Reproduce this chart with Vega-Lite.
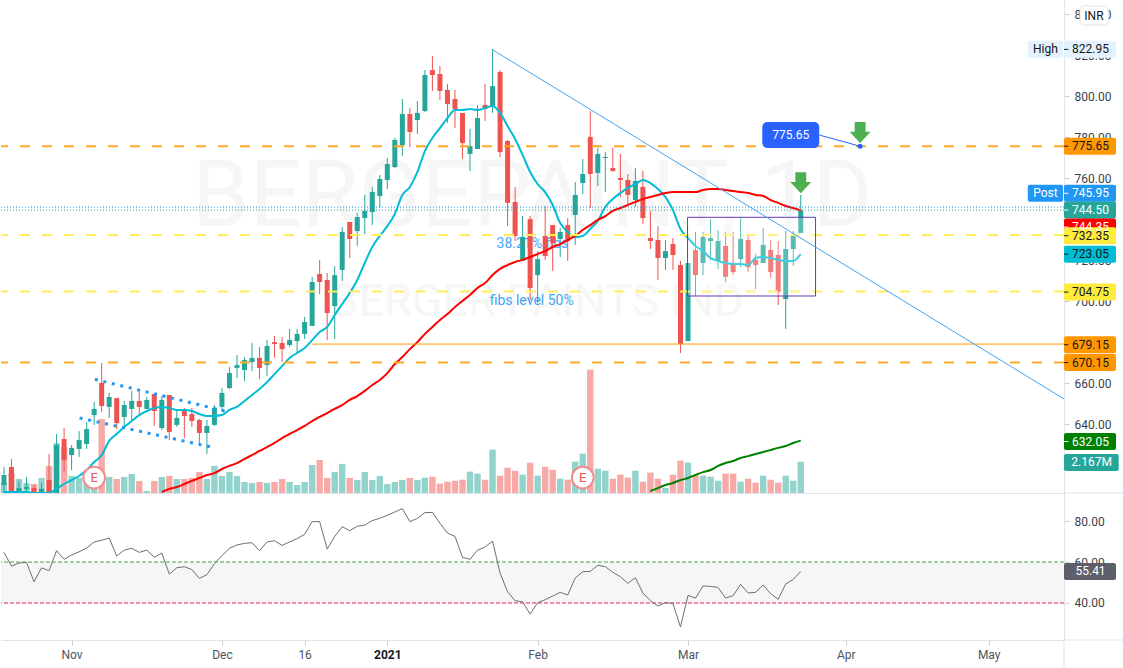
{
  "$schema": "https://vega.github.io/schema/vega-lite/v6.json",
  "background": "white",
  "padding": 0,
  "spacing": 0,
  "bounds": "flush",
  "datasets": {
    "bars": [
      {"i":0,"o":610.4,"h":619.2,"l":600,"c":615.3,"v":0.69,"r":64.7,"e20":607},
      {"i":1,"o":619.2,"h":623.1,"l":600,"c":604,"v":1.38,"r":58.0,"e20":607},
      {"i":2,"o":604,"h":612.4,"l":600,"c":608.9,"v":0.97,"r":59.5,"e20":607},
      {"i":3,"o":608.5,"h":614.3,"l":600,"c":609.4,"v":0.69,"r":59.8,"e20":607},
      {"i":4,"o":608.9,"h":610.4,"l":600,"c":604,"v":0.62,"r":50.4,"e20":606.5},
      {"i":5,"o":604,"h":611.4,"l":600,"c":608.5,"v":1.04,"r":57.1,"e20":606.5},
      {"i":6,"o":612.8,"h":625.5,"l":600,"c":604,"v":1.87,"r":55.8,"e20":606.5},
      {"i":7,"o":604,"h":635.3,"l":600,"c":629.9,"v":3.46,"r":65.5,"e20":608.5},
      {"i":8,"o":632.8,"h":638.2,"l":616.7,"c":622.6,"v":3.18,"r":61.3,"e20":610.9},
      {"i":9,"o":625.0,"h":629.9,"l":617.7,"c":628.5,"v":1.18,"r":63.4,"e20":612.8},
      {"i":10,"o":628.0,"h":636.7,"l":624.1,"c":632.4,"v":1.04,"r":65.0,"e20":614.8},
      {"i":11,"o":630.4,"h":641.1,"l":628.0,"c":637.7,"v":0.69,"r":66.8,"e20":617.7},
      {"i":12,"o":644.5,"h":650.9,"l":639.7,"c":647.5,"v":0.46,"r":69.8,"e20":621.6},
      {"i":13,"o":660.2,"h":669.9,"l":646.0,"c":648.9,"v":5.12,"r":70.6,"e20":625.0},
      {"i":14,"o":648.5,"h":655.3,"l":643.1,"c":653.3,"v":1.11,"r":71.7,"e20":631.9},
      {"i":15,"o":652.8,"h":652.8,"l":637.7,"c":640.6,"v":0.97,"r":62.9,"e20":635.3},
      {"i":16,"o":643.6,"h":651.4,"l":639.2,"c":649.4,"v":1.11,"r":65.8,"e20":638.7},
      {"i":17,"o":647.5,"h":656.3,"l":642.1,"c":651.4,"v":1.31,"r":66.7,"e20":641.6},
      {"i":18,"o":651.4,"h":656.3,"l":645.0,"c":648.5,"v":0.83,"r":64.7,"e20":644.5},
      {"i":19,"o":647.5,"h":653.3,"l":647.5,"c":651.9,"v":0.14,"r":65.8,"e20":646.5},
      {"i":20,"o":654.8,"h":654.8,"l":639.2,"c":646.5,"v":0.83,"r":62.3,"e20":648.0},
      {"i":21,"o":638.2,"h":653.8,"l":637.2,"c":651.9,"v":1.11,"r":64.4,"e20":648.5,"e50":607},
      {"i":22,"o":654.3,"h":654.3,"l":632.4,"c":636.3,"v":1.18,"r":54.1,"e20":648.0,"e50":608.5},
      {"i":23,"o":639.7,"h":647.0,"l":638.7,"c":643.1,"v":0.97,"r":57.2,"e20":647.0,"e50":609.4},
      {"i":24,"o":646.5,"h":648.0,"l":633.3,"c":644.1,"v":0.97,"r":57.7,"e20":647.0,"e50":610.9},
      {"i":25,"o":645.0,"h":648.0,"l":638.7,"c":641.6,"v":1.04,"r":56.3,"e20":646.5,"e50":612.4},
      {"i":26,"o":642.1,"h":642.6,"l":630.4,"c":635.8,"v":1.45,"r":52.0,"e20":645.0,"e50":613.8},
      {"i":27,"o":635.8,"h":642.1,"l":625.5,"c":639.2,"v":0.97,"r":53.8,"e20":644.1,"e50":615.3},
      {"i":28,"o":639.7,"h":649.4,"l":639.2,"c":648.0,"v":1.87,"r":59.2,"e20":644.1,"e50":616.2},
      {"i":29,"o":648.5,"h":657.7,"l":647.0,"c":655.3,"v":1.18,"r":63.1,"e20":644.5,"e50":618.2},
      {"i":30,"o":657.7,"h":668.0,"l":657.2,"c":665.0,"v":1.45,"r":66.7,"e20":647.0,"e50":619.7},
      {"i":31,"o":667.5,"h":673.8,"l":662.6,"c":668.9,"v":1.18,"r":68.3,"e20":648.5,"e50":621.1},
      {"i":32,"o":666.5,"h":672.8,"l":661.1,"c":671.4,"v":0.76,"r":69.1,"e20":651.4,"e50":623.1},
      {"i":33,"o":670.4,"h":679.7,"l":666.0,"c":672.4,"v":0.69,"r":69.4,"e20":654.3,"e50":625.0},
      {"i":34,"o":672.4,"h":677.7,"l":662.1,"c":667.5,"v":0.76,"r":65.5,"e20":657.2,"e50":627.0},
      {"i":35,"o":668.9,"h":681.1,"l":663.6,"c":678.2,"v":0.69,"r":69.8,"e20":660.6,"e50":628.9},
      {"i":36,"o":680.1,"h":683.1,"l":672.4,"c":679.2,"v":0.76,"r":70.4,"e20":664.5,"e50":630.9},
      {"i":37,"o":679.7,"h":682.6,"l":670.4,"c":676.7,"v":0.97,"r":68.1,"e20":668.4,"e50":633.3},
      {"i":38,"o":678.7,"h":686.5,"l":677.7,"c":681.1,"v":0.76,"r":69.8,"e20":672.4,"e50":635.3},
      {"i":39,"o":680.6,"h":686.5,"l":674.3,"c":684.1,"v":0.55,"r":71.4,"e20":674.8,"e50":637.2},
      {"i":40,"o":684.1,"h":692.4,"l":681.6,"c":689.9,"v":0.76,"r":73.5,"e20":677.2,"e50":639.2},
      {"i":41,"o":688.0,"h":711.9,"l":688.0,"c":709.4,"v":1.94,"r":79.7,"e20":681.1,"e50":641.6},
      {"i":42,"o":713.3,"h":720.2,"l":703.6,"c":709.4,"v":2.28,"r":79.7,"e20":685.0,"e50":643.6},
      {"i":43,"o":710.4,"h":713.8,"l":681.1,"c":694.3,"v":1.04,"r":66.3,"e20":687.5,"e50":645.5},
      {"i":44,"o":697.7,"h":717.2,"l":681.6,"c":712.8,"v":1.45,"r":72.5,"e20":693.3,"e50":647.5},
      {"i":45,"o":715.3,"h":736.2,"l":709.9,"c":733.8,"v":2.01,"r":77.2,"e20":698.7,"e50":649.4},
      {"i":46,"o":738.7,"h":738.7,"l":721.1,"c":730.4,"v":1.04,"r":75.3,"e20":704.1,"e50":651.9},
      {"i":47,"o":734.3,"h":743.1,"l":727.0,"c":741.1,"v":0.90,"r":77.4,"e20":710.4,"e50":653.8},
      {"i":48,"o":740.6,"h":751.9,"l":732.8,"c":744.1,"v":1.45,"r":78.0,"e20":718.7,"e50":656.3},
      {"i":49,"o":743.6,"h":755.8,"l":737.2,"c":753.3,"v":0.90,"r":80.2,"e20":726.5,"e50":659.2},
      {"i":50,"o":751.4,"h":761.6,"l":745.5,"c":759.7,"v":1.18,"r":81.3,"e20":731.9,"e50":661.6},
      {"i":51,"o":759.2,"h":769.9,"l":754.8,"c":767.0,"v":0.62,"r":82.8,"e20":736.7,"e50":665.0},
      {"i":52,"o":765.5,"h":779.7,"l":765.0,"c":778.7,"v":0.76,"r":84.4,"e20":742.6,"e50":669.4},
      {"i":53,"o":776.2,"h":798.7,"l":770.9,"c":791.4,"v":0.90,"r":86.0,"e20":751.9,"e50":672.8},
      {"i":54,"o":791.4,"h":794.3,"l":775.3,"c":782.6,"v":1.04,"r":79.7,"e20":755.8,"e50":676.7},
      {"i":55,"o":788.4,"h":797.7,"l":781.6,"c":791.9,"v":0.90,"r":81.3,"e20":763.1,"e50":680.1},
      {"i":56,"o":792.8,"h":812.8,"l":792.3,"c":810.4,"v":1.06,"r":84.1,"e20":773.3,"e50":684.1},
      {"i":57,"o":812.8,"h":819.7,"l":802.6,"c":810.4,"v":1.13,"r":84.2,"e20":779.7,"e50":687.5},
      {"i":58,"o":810.9,"h":814.8,"l":798.2,"c":802.6,"v":0.65,"r":78.9,"e20":784.5,"e50":690.9},
      {"i":59,"o":803.1,"h":806.0,"l":787.0,"c":796.2,"v":0.78,"r":74.1,"e20":789.4,"e50":693.8},
      {"i":60,"o":798.7,"h":803.1,"l":784.5,"c":793.8,"v":0.85,"r":72.5,"e20":793.3,"e50":697.2},
      {"i":61,"o":791.9,"h":791.9,"l":769.4,"c":777.2,"v":0.92,"r":62.3,"e20":793.3,"e50":700.2},
      {"i":62,"o":771.9,"h":784.1,"l":763.6,"c":775.8,"v":1.48,"r":61.3,"e20":793.8,"e50":703.1},
      {"i":63,"o":774.3,"h":795.8,"l":774.3,"c":789.4,"v":1.34,"r":65.8,"e20":793.3,"e50":706.5},
      {"i":64,"o":795.8,"h":806.0,"l":788.0,"c":793.8,"v":0.92,"r":67.3,"e20":794.3,"e50":708.9},
      {"i":65,"o":794.8,"h":823.0,"l":791.9,"c":805.0,"v":3.00,"r":70.2,"e20":795.3,"e50":712.8},
      {"i":66,"o":811.9,"h":812.8,"l":770.4,"c":772.8,"v":1.20,"r":54.6,"e20":791.9,"e50":715.8},
      {"i":67,"o":778.2,"h":778.7,"l":736.7,"c":748.0,"v":1.75,"r":45.5,"e20":785.5,"e50":717.7},
      {"i":68,"o":748.5,"h":755.8,"l":729.4,"c":731.9,"v":1.54,"r":41.1,"e20":779.2,"e50":719.2},
      {"i":69,"o":719.7,"h":741.6,"l":719.7,"c":731.4,"v":1.27,"r":40.6,"e20":771.4,"e50":720.2},
      {"i":70,"o":740.1,"h":741.6,"l":700.6,"c":706.5,"v":2.10,"r":34.6,"e20":763.1,"e50":721.6},
      {"i":71,"o":712.8,"h":724.5,"l":699.2,"c":720.6,"v":1.20,"r":40.2,"e20":757.2,"e50":723.1},
      {"i":72,"o":731.9,"h":746.5,"l":720.2,"c":722.1,"v":1.82,"r":41.6,"e20":753.3,"e50":724.5},
      {"i":73,"o":737.2,"h":737.2,"l":714.8,"c":728.4,"v":1.61,"r":43.4,"e20":747.0,"e50":726.5},
      {"i":74,"o":730.4,"h":735.8,"l":721.6,"c":733.8,"v":0.99,"r":45.2,"e20":738.2,"e50":727.9},
      {"i":75,"o":737.2,"h":740.6,"l":719.7,"c":729.4,"v":0.92,"r":43.9,"e20":733.8,"e50":729.9},
      {"i":76,"o":742.1,"h":758.2,"l":727.5,"c":751.9,"v":2.17,"r":52.2,"e20":731.4,"e50":731.9},
      {"i":77,"o":757.7,"h":769.4,"l":752.4,"c":762.1,"v":2.72,"r":55.3,"e20":731.9,"e50":734.8},
      {"i":78,"o":780.2,"h":792.8,"l":745.5,"c":762.1,"v":8.53,"r":55.4,"e20":735.3,"e50":737.2},
      {"i":79,"o":762.6,"h":774.8,"l":756.2,"c":771.9,"v":1.68,"r":58.4,"e20":739.2,"e50":739.7},
      {"i":80,"o":769.9,"h":772.8,"l":753.3,"c":770.4,"v":1.54,"r":57.7,"e20":746.0,"e50":741.6},
      {"i":81,"o":765.0,"h":774.8,"l":763.1,"c":763.6,"v":0.99,"r":55.0,"e20":749.9,"e50":744.1},
      {"i":82,"o":760.2,"h":771.9,"l":750.9,"c":759.2,"v":1.27,"r":52.8,"e20":752.8,"e50":745.5},
      {"i":83,"o":759.2,"h":762.1,"l":747.0,"c":751.9,"v":1.06,"r":49.6,"e20":755.3,"e50":747.0},
      {"i":84,"o":749.4,"h":765.0,"l":746.0,"c":758.7,"v":1.54,"r":52.3,"e20":757.2,"e50":748.5},
      {"i":85,"o":755.8,"h":763.6,"l":737.7,"c":740.6,"v":0.78,"r":44.9,"e20":759.2,"e50":749.9},
      {"i":86,"o":730.9,"h":744.1,"l":725.5,"c":729.4,"v":1.41,"r":41.1,"e20":757.7,"e50":750.9,"e200":607.5},
      {"i":87,"o":729.9,"h":736.7,"l":710.4,"c":721.1,"v":0.99,"r":38.5,"e20":754.8,"e50":751.9,"e200":608.9},
      {"i":88,"o":721.1,"h":729.9,"l":715.3,"c":724.5,"v":0.35,"r":40.2,"e20":750.9,"e50":752.8,"e200":610.4},
      {"i":89,"o":727.9,"h":730.9,"l":715.3,"c":722.6,"v":1.27,"r":39.7,"e20":744.5,"e50":753.3,"e200":611.4},
      {"i":90,"o":717.7,"h":719.7,"l":674.8,"c":679.2,"v":2.24,"r":28.3,"e20":735.3,"e50":753.3,"e200":612.8},
      {"i":91,"o":680.6,"h":718.7,"l":680.6,"c":718.7,"v":2.10,"r":43.7,"e20":730.9,"e50":753.3,"e200":613.8},
      {"i":92,"o":725.0,"h":733.8,"l":702.6,"c":712.8,"v":1.20,"r":42.4,"e20":727.0,"e50":753.3,"e200":615.3},
      {"i":93,"o":718.7,"h":733.8,"l":712.8,"c":731.4,"v":1.20,"r":48.3,"e20":724.5,"e50":754.3,"e200":616.7},
      {"i":94,"o":729.4,"h":740.1,"l":720.2,"c":730.9,"v":1.13,"r":48.1,"e20":721.1,"e50":754.8,"e200":617.7},
      {"i":95,"o":719.7,"h":734.8,"l":715.8,"c":729.4,"v":0.85,"r":47.6,"e20":719.7,"e50":754.8,"e200":619.7},
      {"i":96,"o":727.0,"h":733.8,"l":709.4,"c":711.9,"v":1.34,"r":42.4,"e20":718.7,"e50":754.3,"e200":621.1},
      {"i":97,"o":718.2,"h":733.8,"l":712.8,"c":714.3,"v":1.34,"r":43.6,"e20":718.2,"e50":753.8,"e200":622.1},
      {"i":98,"o":720.6,"h":740.6,"l":716.7,"c":730.4,"v":0.78,"r":49.1,"e20":718.2,"e50":753.3,"e200":623.6},
      {"i":99,"o":729.9,"h":731.9,"l":714.3,"c":716.7,"v":0.99,"r":44.9,"e20":717.7,"e50":752.8,"e200":624.5},
      {"i":100,"o":720.2,"h":723.1,"l":706.0,"c":717.7,"v":0.71,"r":45.2,"e20":721.1,"e50":751.9,"e200":625.5},
      {"i":101,"o":718.7,"h":735.8,"l":718.7,"c":727.5,"v":1.20,"r":48.8,"e20":721.6,"e50":751.4,"e200":626.5},
      {"i":102,"o":725.0,"h":729.9,"l":711.4,"c":714.3,"v":0.92,"r":44.5,"e20":721.1,"e50":749.4,"e200":627.5},
      {"i":103,"o":722.6,"h":729.4,"l":698.2,"c":704.5,"v":0.71,"r":41.8,"e20":720.2,"e50":748.0,"e200":628.5},
      {"i":104,"o":701.1,"h":734.3,"l":686.5,"c":725.5,"v":1.20,"r":49.3,"e20":719.7,"e50":746.5,"e200":629.4},
      {"i":105,"o":725.5,"h":734.3,"l":717.2,"c":731.9,"v":0.85,"r":51.5,"e20":719.7,"e50":745.5,"e200":630.9},
      {"i":106,"o":733.3,"h":751.9,"l":733.3,"c":744.5,"v":2.167,"r":55.41,"e20":723.05,"e50":744.35,"e200":632.05}
    ],
    "tags": [
      {"label":"822.95","x0":141.02,"x1":147.94,"xt":144.55,"pos":822.9},
      {"label":"High","x0":136.2,"x1":140.9,"xt":138.55,"pos":822.9},
      {"label":"775.65","x0":141.02,"x1":147.94,"xt":144.55,"pos":775.65},
      {"label":"745.95","x0":141.02,"x1":147.94,"xt":144.55,"pos":752.7},
      {"label":"Post","x0":136.2,"x1":140.9,"xt":138.55,"pos":752.7},
      {"label":"744.50","x0":141.02,"x1":147.94,"xt":144.55,"pos":744.5},
      {"label":"744.35","x0":141.02,"x1":147.94,"xt":144.55,"pos":736.2},
      {"label":"732.35","x0":141.02,"x1":147.94,"xt":144.55,"pos":732.0},
      {"label":"723.05","x0":141.02,"x1":147.94,"xt":144.55,"pos":723.0},
      {"label":"704.75","x0":141.02,"x1":147.94,"xt":144.55,"pos":704.5},
      {"label":"679.15","x0":141.02,"x1":147.94,"xt":144.55,"pos":678.8},
      {"label":"670.15","x0":141.02,"x1":147.94,"xt":144.55,"pos":670.1},
      {"label":"632.05","x0":141.02,"x1":147.94,"xt":144.55,"pos":631.6},
      {"label":"2.167M","x0":141.02,"x1":148.3,"xt":144.7,"pos":621.4}
    ]
  },
  "vconcat": [
    {
      "width": 1063,
      "height": 493,
      "resolve": {"scale": {"y": "independent"}},
      "layer": [
        {
          "data": {"name": "bars"},
          "mark": {"type": "bar", "orient": "vertical", "size": 6.4},
          "encoding": {
            "x": {"field": "i", "type": "quantitative", "scale": {"domain": [-0.392, 141.02], "nice": false, "zero": false, "padding": 0}, "axis": {"title": null, "labels": false, "ticks": false, "grid": false, "domainColor": "#e0e3eb"}},
            "y": {"field": "v", "type": "quantitative", "scale": {"domain": [0, 34.09], "nice": false}, "axis": null},
            "color": {"condition": {"test": "datum.c >= datum.o", "value": "#92d3cc"}, "value": "#f7a9a7"}
          }
        },
        {
          "layer": [
            {
              "data": {"values": [{"name": "BERGEPAINT, 1D", "x": 70.3, "y": 750.4}]},
              "mark": {"type": "text", "fontSize": 92, "color": "#f6f6f7", "baseline": "middle", "align": "center"},
              "encoding": {
                "x": {"field": "x", "type": "quantitative", "title": null},
                "y": {"field": "y", "type": "quantitative", "scale": {"domain": [606.5, 846.98], "nice": false, "zero": false, "padding": 0}, "axis": {"title": null, "orient": "right", "values": [640, 660, 680, 700, 720, 740, 760, 780, 800, 820, 840], "format": ".2f", "grid": false}},
                "text": {"field": "name"}
              }
            },
            {
              "data": {"values": [{"name": "BERGER PAINTS IND", "x": 70.9, "y": 699.9}]},
              "mark": {"type": "text", "fontSize": 45, "color": "#f6f6f7", "baseline": "middle", "align": "center"},
              "encoding": {
                "x": {"field": "x", "type": "quantitative", "title": null},
                "y": {"field": "y", "type": "quantitative", "title": null},
                "text": {"field": "name"}
              }
            },
            {
              "data": {"values": [{"name": "38.21% fibs", "x": 70.3, "y": 727.8}, {"name": "fibs level 50%", "x": 70.2, "y": 700.1}]},
              "mark": {"type": "text", "fontSize": 14, "color": "#42a5f5", "baseline": "middle", "align": "center"},
              "encoding": {
                "x": {"field": "x", "type": "quantitative", "title": null},
                "y": {"field": "y", "type": "quantitative", "title": null},
                "text": {"field": "name"}
              }
            },
            {
              "data": {"name": "bars"},
              "mark": {"type": "rule", "strokeWidth": 1, "clip": true},
              "encoding": {
                "x": {"field": "i", "type": "quantitative", "title": null},
                "y": {"field": "h", "type": "quantitative", "title": null},
                "y2": {"field": "l"},
                "color": {"condition": {"test": "datum.c >= datum.o", "value": "#26a69a"}, "value": "#ef5350"}
              }
            },
            {
              "data": {"name": "bars"},
              "mark": {"type": "bar", "orient": "vertical", "size": 5, "clip": true},
              "encoding": {
                "x": {"field": "i", "type": "quantitative", "title": null},
                "y": {"field": "o", "type": "quantitative", "title": null},
                "y2": {"field": "c"},
                "color": {"condition": {"test": "datum.c >= datum.o", "value": "#26a69a"}, "value": "#ef5350"}
              }
            },
            {
              "data": {"name": "bars"},
              "mark": {"type": "line", "color": "#00bcd4", "strokeWidth": 2, "interpolate": "monotone", "clip": true},
              "encoding": {
                "x": {"field": "i", "type": "quantitative", "title": null},
                "y": {"field": "e20", "type": "quantitative", "title": null}
              }
            },
            {
              "data": {"name": "bars"},
              "mark": {"type": "line", "color": "#ff0000", "strokeWidth": 2, "interpolate": "monotone", "clip": true},
              "encoding": {
                "x": {"field": "i", "type": "quantitative", "title": null},
                "y": {"field": "e50", "type": "quantitative", "title": null}
              }
            },
            {
              "data": {"name": "bars"},
              "mark": {"type": "line", "color": "#008000", "strokeWidth": 2, "interpolate": "monotone", "clip": true},
              "encoding": {
                "x": {"field": "i", "type": "quantitative", "title": null},
                "y": {"field": "e200", "type": "quantitative", "title": null}
              }
            },
            {
              "data": {"values": [{"price": 775.65}, {"price": 670.15}]},
              "mark": {"type": "rule", "color": "#ffa726", "strokeWidth": 2, "strokeDash": [10, 12]},
              "encoding": {"y": {"field": "price", "type": "quantitative", "title": null}}
            },
            {
              "data": {"values": [{"price": 732.35}, {"price": 704.75}]},
              "mark": {"type": "rule", "color": "#ffee58", "strokeWidth": 2, "strokeDash": [10, 12]},
              "encoding": {"y": {"field": "price", "type": "quantitative", "title": null}}
            },
            {
              "data": {"values": [{"x0": 41, "x1": 141.02, "price": 679.15}]},
              "mark": {"type": "rule", "color": "#ff9800", "strokeWidth": 1},
              "encoding": {
                "x": {"field": "x0", "type": "quantitative", "title": null},
                "x2": {"field": "x1"},
                "y": {"field": "price", "type": "quantitative", "title": null}
              }
            },
            {
              "data": {"values": [{"price": 745.95}]},
              "mark": {"type": "rule", "color": "#2196f3", "strokeWidth": 1, "strokeDash": [1, 2]},
              "encoding": {"y": {"field": "price", "type": "quantitative", "title": null}}
            },
            {
              "data": {"values": [{"price": 744.5}]},
              "mark": {"type": "rule", "color": "#26a69a", "strokeWidth": 1, "strokeDash": [1, 2]},
              "encoding": {"y": {"field": "price", "type": "quantitative", "title": null}}
            },
            {
              "data": {"values": [{"x0": 12.1, "x1": 29.53, "y0": 661.95, "y1": 646.35}, {"x0": 10.06, "x1": 27.62, "y0": 643.1, "y1": 628.9}]},
              "mark": {"type": "rule", "color": "#2196f3", "strokeWidth": 3, "strokeDash": [3, 5.7]},
              "encoding": {
                "x": {"field": "x0", "type": "quantitative", "title": null},
                "x2": {"field": "x1"},
                "y": {"field": "y0", "type": "quantitative", "title": null},
                "y2": {"field": "y1"}
              }
            },
            {
              "data": {"values": [{"x0": 90.94, "x1": 107.97, "y0": 740.98, "y1": 702.6}]},
              "mark": {"type": "rect", "fill": "white", "fillOpacity": 0.25, "stroke": "#673ab7", "strokeWidth": 1},
              "encoding": {
                "x": {"field": "x0", "type": "quantitative", "title": null},
                "x2": {"field": "x1"},
                "y": {"field": "y0", "type": "quantitative", "title": null},
                "y2": {"field": "y1"}
              }
            },
            {
              "data": {"values": [{"x0": 64.9, "x1": 141.02, "y0": 822.93, "y1": 652.4}]},
              "mark": {"type": "rule", "color": "#42a5f5", "strokeWidth": 1},
              "encoding": {
                "x": {"field": "x0", "type": "quantitative", "title": null},
                "x2": {"field": "x1"},
                "y": {"field": "y0", "type": "quantitative", "title": null},
                "y2": {"field": "y1"}
              }
            },
            {
              "data": {"values": [{"x": 106, "price": 757.86}, {"x": 113.9, "price": 782.35}]},
              "mark": {"type": "point", "shape": "M-0.52,-1L0.52,-1L0.52,-0.06L1,-0.06L0,1L-1,-0.06L-0.52,-0.06Z", "filled": true, "size": 441, "color": "#4caf50", "opacity": 1},
              "encoding": {
                "x": {"field": "x", "type": "quantitative", "title": null},
                "y": {"field": "price", "type": "quantitative", "title": null}
              }
            },
            {
              "data": {"values": [{"x0": 108.46, "x1": 113.9, "y0": 781.1, "y1": 775.65}]},
              "mark": {"type": "rule", "color": "#2962ff", "strokeWidth": 1},
              "encoding": {
                "x": {"field": "x0", "type": "quantitative", "title": null},
                "x2": {"field": "x1"},
                "y": {"field": "y0", "type": "quantitative", "title": null},
                "y2": {"field": "y1"}
              }
            },
            {
              "data": {"values": [{"x": 113.9, "price": 775.65}]},
              "mark": {"type": "point", "filled": true, "size": 25, "color": "#2962ff", "opacity": 1},
              "encoding": {
                "x": {"field": "x", "type": "quantitative", "title": null},
                "y": {"field": "price", "type": "quantitative", "title": null}
              }
            },
            {
              "data": {"values": [{"x0": 100.88, "x1": 108.46, "y0": 787.5, "y1": 774.8}]},
              "mark": {"type": "rect", "fill": "#2962ff", "cornerRadius": 5},
              "encoding": {
                "x": {"field": "x0", "type": "quantitative", "title": null},
                "x2": {"field": "x1"},
                "y": {"field": "y0", "type": "quantitative", "title": null},
                "y2": {"field": "y1"}
              }
            },
            {
              "data": {"values": [{"name": "775.65", "x": 104.67, "y": 781.2}]},
              "mark": {"type": "text", "fontSize": 12, "color": "white", "baseline": "middle", "align": "center"},
              "encoding": {
                "x": {"field": "x", "type": "quantitative", "title": null},
                "y": {"field": "y", "type": "quantitative", "title": null},
                "text": {"field": "name"}
              }
            },
            {
              "data": {"values": [{"x": 12, "price": 614}, {"x": 77, "price": 614}]},
              "mark": {"type": "point", "shape": "circle", "filled": true, "size": 475, "fill": "white", "stroke": "#f28b8d", "strokeWidth": 2, "opacity": 1},
              "encoding": {
                "x": {"field": "x", "type": "quantitative", "title": null},
                "y": {"field": "price", "type": "quantitative", "title": null}
              }
            },
            {
              "data": {"values": [{"name": "E", "x": 12, "price": 614}, {"name": "E", "x": 77, "price": 614}]},
              "mark": {"type": "text", "fontSize": 13, "color": "#ef5350", "baseline": "middle", "align": "center"},
              "encoding": {
                "x": {"field": "x", "type": "quantitative", "title": null},
                "y": {"field": "price", "type": "quantitative", "title": null},
                "text": {"field": "name"}
              }
            },
            {
              "data": {"name": "tags"},
              "mark": {"type": "bar", "orient": "horizontal", "size": 17, "cornerRadius": 2},
              "encoding": {
                "x": {"field": "x0", "type": "quantitative", "title": null},
                "x2": {"field": "x1"},
                "y": {"field": "pos", "type": "quantitative", "title": null},
                "color": {
                  "field": "label",
                  "type": "nominal",
                  "legend": null,
                  "scale": {
                    "domain": ["822.95", "High", "775.65", "745.95", "Post", "744.50", "744.35", "732.35", "723.05", "704.75", "679.15", "670.15", "632.05", "2.167M"],
                    "range": ["#e3f2fd", "#e3f2fd", "#ff9800", "#2196f3", "#2196f3", "#26a69a", "#ff0000", "#ffeb3b", "#00bcd4", "#ffeb3b", "#ff9800", "#ff9800", "#008000", "#26a69a"]
                  }
                },
                "order": {"field": "pos", "sort": "descending"}
              }
            },
            {
              "data": {"name": "tags"},
              "mark": {"type": "text", "fontSize": 12, "baseline": "middle", "align": "center"},
              "encoding": {
                "x": {"field": "xt", "type": "quantitative", "title": null},
                "y": {"field": "pos", "type": "quantitative", "title": null},
                "text": {"field": "label"},
                "color": {"condition": {"test": "indexof(['822.95','High','775.65','732.35','723.05','704.75','679.15','670.15'], datum.label) >= 0", "value": "#131722"}, "value": "white"}
              }
            },
            {
              "data": {"name": "tags"},
              "transform": [{"filter": "datum.x0 > 140 && datum.label != '2.167M'"}],
              "mark": {"type": "rule", "strokeWidth": 1},
              "encoding": {
                "x": {"field": "x0", "type": "quantitative", "title": null},
                "x2": {"datum": 141.6},
                "y": {"field": "pos", "type": "quantitative", "title": null},
                "color": {"condition": {"test": "indexof(['822.95','775.65','732.35','723.05','704.75','679.15','670.15'], datum.label) >= 0", "value": "#131722"}, "value": "white"}
              }
            },
            {
              "data": {"values": [{"x0": 143.15, "x1": 146.9, "y0": 844.05, "y1": 834.8}]},
              "mark": {"type": "rect", "fill": "white", "stroke": "#e0e3eb", "strokeWidth": 1, "cornerRadius": 4},
              "encoding": {
                "x": {"field": "x0", "type": "quantitative", "title": null},
                "x2": {"field": "x1"},
                "y": {"field": "y0", "type": "quantitative", "title": null},
                "y2": {"field": "y1"}
              }
            },
            {
              "data": {"values": [{"name": "INR", "x": 145.0, "y": 839.4}]},
              "mark": {"type": "text", "fontSize": 12, "color": "#131722", "baseline": "middle", "align": "center"},
              "encoding": {
                "x": {"field": "x", "type": "quantitative", "title": null},
                "y": {"field": "y", "type": "quantitative", "title": null},
                "text": {"field": "name"}
              }
            },
            {
              "data": {"values": [{"x0": 141.02, "x1": 149.0, "price": 606.5}]},
              "mark": {"type": "rule", "color": "#e0e3eb", "strokeWidth": 1},
              "encoding": {
                "x": {"field": "x0", "type": "quantitative", "title": null},
                "x2": {"field": "x1"},
                "y": {"field": "price", "type": "quantitative", "title": null}
              }
            }
          ]
        }
      ]
    },
    {
      "width": 1063,
      "height": 147,
      "layer": [
        {
          "data": {"values": [{"hi": 60, "lo": 40}]},
          "mark": {"type": "rect", "fill": "#f6f6f6"},
          "encoding": {
            "y": {"field": "hi", "type": "quantitative", "scale": {"domain": [21.95, 93.66], "nice": false, "zero": false, "padding": 0}, "axis": {"title": null, "orient": "right", "values": [40, 60, 80], "format": ".2f", "grid": false}},
            "y2": {"field": "lo"}
          }
        },
        {
          "data": {"values": [{"level": 60}]},
          "mark": {"type": "rule", "color": "#43a843", "strokeWidth": 1, "strokeDash": [4, 2]},
          "encoding": {"y": {"field": "level", "type": "quantitative", "title": null}}
        },
        {
          "data": {"values": [{"level": 40}]},
          "mark": {"type": "rule", "color": "#e91e63", "strokeWidth": 1, "strokeDash": [4, 2]},
          "encoding": {"y": {"field": "level", "type": "quantitative", "title": null}}
        },
        {
          "data": {"name": "bars"},
          "mark": {"type": "line", "color": "#6b6e78", "strokeWidth": 1},
          "encoding": {
            "x": {
              "field": "i",
              "type": "quantitative",
              "scale": {"domain": [-0.392, 141.02], "nice": false, "zero": false, "padding": 0},
              "axis": {
                "title": null,
                "grid": false,
                "values": [9, 29, 40, 51, 71, 91, 112, 131],
                "labelExpr": "{'9':'Nov','29':'Dec','40':'16','51':'2021','71':'Feb','91':'Mar','112':'Apr','131':'May'}[datum.value]",
                "labelFontWeight": {"expr": "datum.value == 51 ? 'bold' : 'normal'"},
                "labelColor": {"expr": "datum.value == 51 ? '#131722' : '#50535e'"},
                "labelPadding": 4,
                "labelFlush": false,
                "labelOverlap": false
              }
            },
            "y": {"field": "r", "type": "quantitative", "title": null}
          }
        },
        {
          "data": {"values": [{"x0": 141.02, "x1": 147.94, "rsi": 55.41}]},
          "mark": {"type": "bar", "orient": "horizontal", "size": 17, "cornerRadius": 2, "color": "#5d606b"},
          "encoding": {
            "x": {"field": "x0", "type": "quantitative", "title": null},
            "x2": {"field": "x1"},
            "y": {"field": "rsi", "type": "quantitative", "title": null}
          }
        },
        {
          "data": {"values": [{"rsi": 55.41, "label": "55.41", "xt": 144.55}]},
          "mark": {"type": "text", "fontSize": 12, "color": "white", "baseline": "middle", "align": "center"},
          "encoding": {
            "x": {"field": "xt", "type": "quantitative", "title": null},
            "y": {"field": "rsi", "type": "quantitative", "title": null},
            "text": {"field": "label"}
          }
        },
        {
          "data": {"values": [{"x0": 141.02, "x1": 149.0, "lvl": 21.95}]},
          "mark": {"type": "rule", "color": "#e0e3eb", "strokeWidth": 1},
          "encoding": {
            "x": {"field": "x0", "type": "quantitative", "title": null},
            "x2": {"field": "x1"},
            "y": {"field": "lvl", "type": "quantitative", "title": null}
          }
        },
        {
          "data": {"values": [{"x": 141.02, "y0": 21.95, "y1": 8.3}]},
          "mark": {"type": "rule", "color": "#e0e3eb", "strokeWidth": 1},
          "encoding": {
            "x": {"field": "x", "type": "quantitative", "title": null},
            "y": {"field": "y0", "type": "quantitative", "title": null},
            "y2": {"field": "y1"}
          }
        }
      ]
    }
  ],
  "config": {
    "view": {"stroke": null},
    "font": "Roboto",
    "text": {"font": "Roboto"},
    "axis": {
      "labelFont": "Roboto",
      "labelFontSize": 12,
      "labelColor": "#3c3f4a",
      "domainColor": "#e0e3eb",
      "tickColor": "#c8cad2",
      "tickSize": 5,
      "labelPadding": 5,
      "labelFlush": false,
      "labelOverlap": false
    }
  }
}
